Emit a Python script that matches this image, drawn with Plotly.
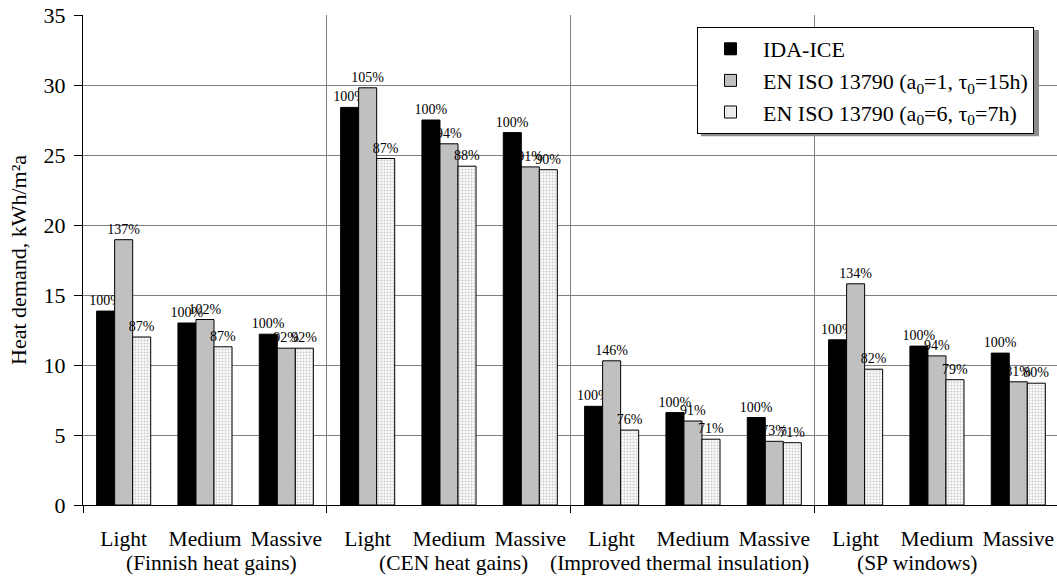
import numpy as np
import plotly.graph_objects as go

# Building types within each scenario, and scenario names
categories = ["Light", "Medium", "Massive"] * 4
scenarios = ["(Finnish heat gains)", "(CEN heat gains)",
             "(Improved thermal insulation)", "(SP windows)"]
scenario_label_x = [1.08, 4.05, 6.84, 9.76]

# Annual heat demand, kWh/m²a
ida_ice = [13.85, 13.0, 12.2, 28.4, 27.5, 26.6, 7.05, 6.6, 6.25, 11.8, 11.35, 10.85]
iso_a1_t15 = [18.95, 13.25, 11.2, 29.8, 25.8, 24.15, 10.3, 6.0, 4.55, 15.8, 10.65, 8.8]
iso_a6_t7 = [12.0, 11.3, 11.2, 24.75, 24.2, 23.95, 5.35, 4.7, 4.45, 9.7, 8.95, 8.7]

y_ticks = [0, 5, 10, 15, 20, 25, 30, 35]
group_bounds = [-0.5, 2.5, 5.5, 8.5]

x = np.arange(len(categories))
ref = np.array(ida_ice)


def pct(vals):
    return [f"{round(v / r * 100)}%" for v, r in zip(vals, ref)]


FONT = "Liberation Serif"
common = dict(textposition="outside", cliponaxis=False, constraintext="none",
              textfont=dict(family=FONT, size=14, color="black"))

fig = go.Figure()
fig.add_trace(go.Bar(
    x=x, y=ida_ice, name="IDA-ICE", text=pct(ida_ice),
    marker=dict(color="black", line=dict(color="black", width=1)), **common))
fig.add_trace(go.Bar(
    x=x, y=iso_a1_t15, name="EN ISO 13790 (a<sub>0</sub>=1, τ<sub>0</sub>=15h)",
    text=pct(iso_a1_t15),
    marker=dict(color="#c0c0c0", line=dict(color="black", width=1)), **common))
fig.add_trace(go.Bar(
    x=x, y=iso_a6_t7, name="EN ISO 13790 (a<sub>0</sub>=6, τ<sub>0</sub>=7h)",
    text=pct(iso_a6_t7),
    marker=dict(color="white", line=dict(color="black", width=1),
                pattern=dict(shape=".", size=3, solidity=0.35,
                             fgcolor="#cccccc", bgcolor="#fbfbfb",
                             fillmode="replace")), **common))

for sx, label in zip(scenario_label_x, scenarios):
    fig.add_annotation(x=sx, y=0, xref="x", yref="y", yshift=-58,
                       text=label, showarrow=False, yanchor="middle",
                       font=dict(family=FONT, size=21.5, color="black"))

# soft drop shadow behind the legend box
fig.add_shape(type="rect", xref="paper", yref="paper", layer="above",
              x0=0.6345, x1=0.9815, y0=0.7525, y1=0.9695,
              fillcolor="#8c8c8c", line=dict(width=0))

fig.update_layout(
    width=1057, height=577,
    margin=dict(l=83, r=0, t=15, b=72),
    paper_bgcolor="white", plot_bgcolor="white",
    barmode="group", bargap=0.335, bargroupgap=0,
    font=dict(family=FONT, size=21, color="black"),
    showlegend=True,
    legend=dict(x=0.6304, y=0.9755, xanchor="left", yanchor="top",
                bgcolor="white", bordercolor="black", borderwidth=1,
                itemwidth=55,
                font=dict(family=FONT, size=22, color="black"),
                traceorder="normal"),
    xaxis=dict(range=[-0.5, 11.476], tickmode="array", tickvals=x,
               ticktext=categories, tickangle=0,
               ticks="outside", ticklen=0, showgrid=False,
               ticklabelstandoff=14,
               showline=True, linecolor="black", linewidth=1,
               tickfont=dict(family=FONT, size=21.5, color="black"),
               minor=dict(tickmode="array", tickvals=group_bounds,
                          ticks="outside", ticklen=7, tickcolor="black",
                          showgrid=True, gridcolor="#808080", gridwidth=1)),
    yaxis=dict(range=[0, 35], tickmode="array", tickvals=y_ticks,
               ticks="outside", ticklen=8, tickcolor="black",
               ticklabelstandoff=4,
               showline=True, linecolor="black", linewidth=1,
               showgrid=True, gridcolor="#808080", gridwidth=1,
               zeroline=False,
               tickfont=dict(family=FONT, size=22, color="black"),
               title=dict(text="Heat demand, kWh/m²a", standoff=10,
                          font=dict(family=FONT, size=22, color="black"))),
)

fig.write_html("out.html")
